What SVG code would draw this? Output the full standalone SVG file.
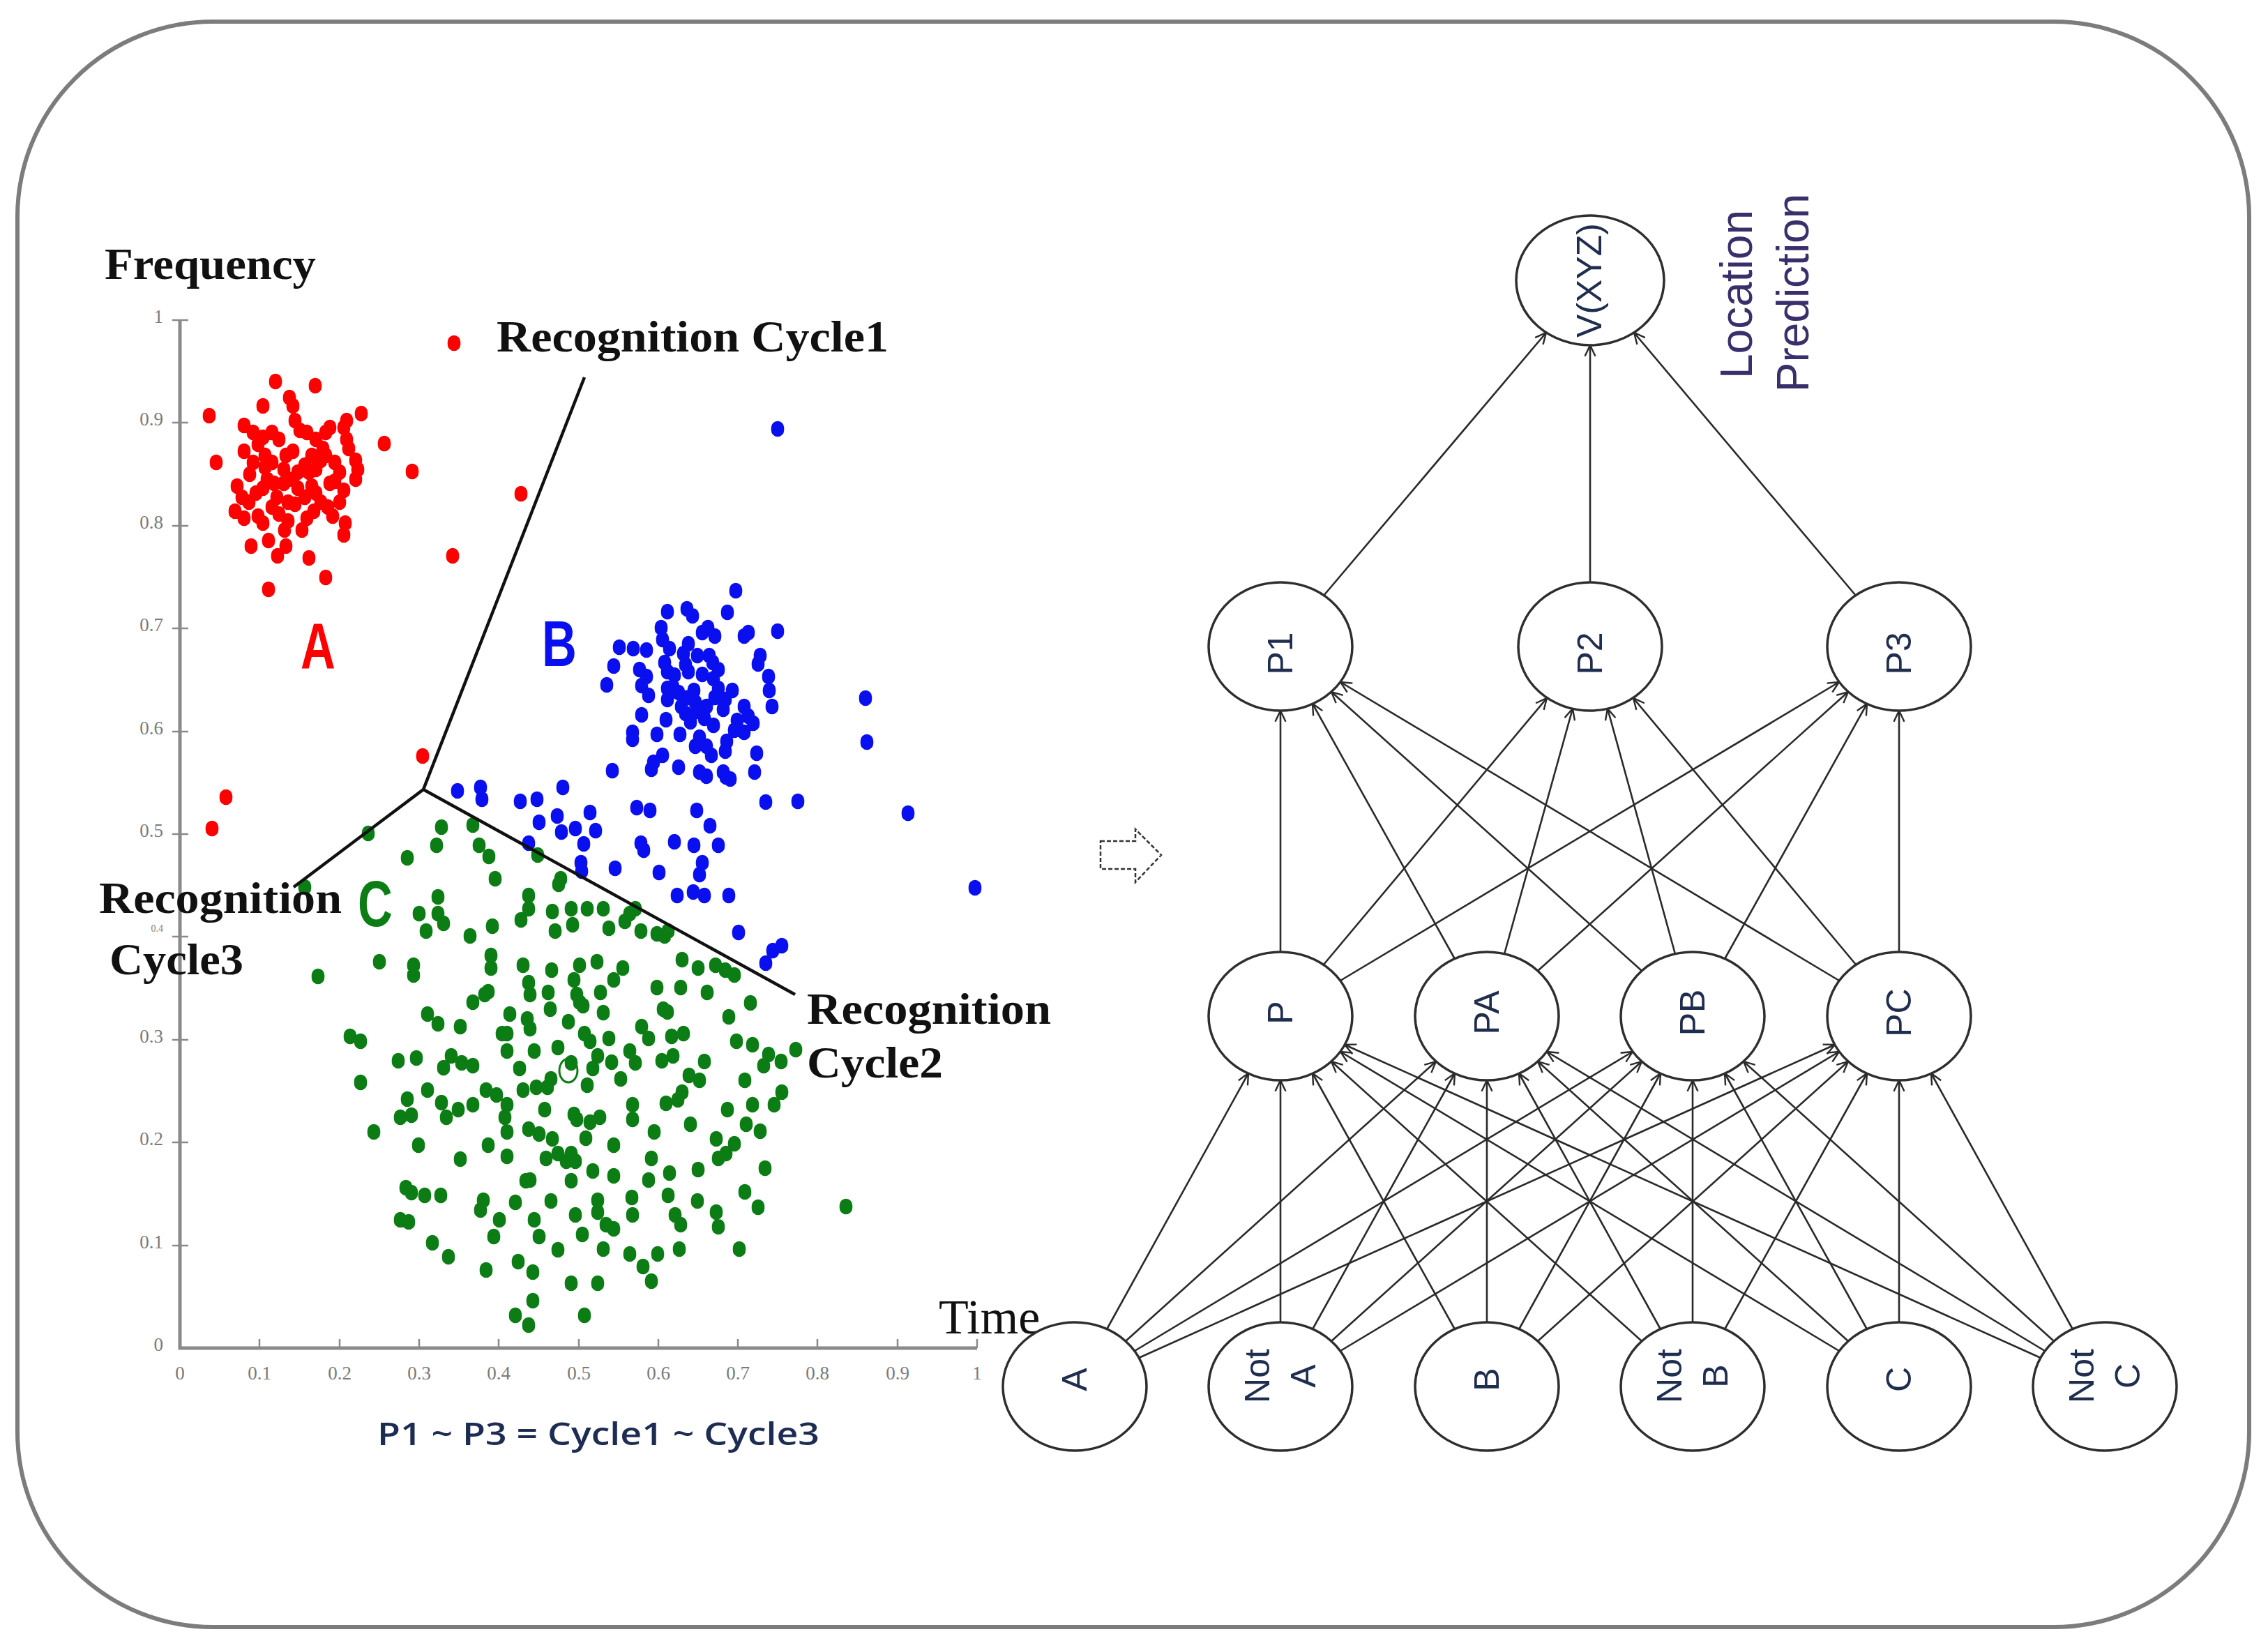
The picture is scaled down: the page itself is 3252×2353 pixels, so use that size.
<svg xmlns="http://www.w3.org/2000/svg" width="3252" height="2353" viewBox="0 0 3252 2353">
<style>
.serifb{font-family:"Liberation Serif","Times New Roman",serif;font-weight:bold;fill:#111}
.tick{font-family:"Liberation Serif","Times New Roman",serif;font-size:27px;fill:#7a7a7a}
.nl{font-family:"Liberation Sans",Arial,sans-serif;font-size:50px;fill:#1f2d4f}
.node{fill:#fff;stroke:#2e2e2e;stroke-width:3.5}
.edge{stroke:#2a2a2a;stroke-width:2.6;fill:none;marker-end:url(#arr)}
.axis{stroke:#8a8a8a;stroke-width:5;fill:none}
.tk{stroke:#8a8a8a;stroke-width:2.5}
.sep{stroke:#111;stroke-width:4.5;fill:none}
.dots{fill:none;stroke-linecap:round;stroke-width:18.5}
</style>
<defs>
<marker id="arr" viewBox="0 0 12 12" refX="11.5" refY="6" markerWidth="18" markerHeight="18" markerUnits="userSpaceOnUse" orient="auto">
<path d="M1,1 L11.5,6 L1,11" fill="none" stroke="#2a2a2a" stroke-width="1.6"/>
</marker>
</defs>
<rect x="0" y="0" width="3252" height="2353" fill="#fff"/>
<rect id="frame" x="25" y="31" width="3200" height="2302" rx="280" ry="280" fill="none" stroke="#7c7c7c" stroke-width="6"/>

<g id="chart">
<text class="serifb" x="150" y="400" font-size="64" textLength="303" lengthAdjust="spacingAndGlyphs">Frequency</text>
<path class="axis" d="M258 459V1933H1401"/>
<path class="tk" d="M247 459H270M247 606H270M247 754H270M247 901H270M247 1049H270M247 1196H270M247 1343H270M247 1491H270M247 1638H270M247 1786H270M372 1920V1933M487 1920V1933M601 1920V1933M715 1920V1933M830 1920V1933M944 1920V1933M1058 1920V1933M1172 1920V1933M1287 1920V1933M1401 1920V1933"/>
<g class="tick" text-anchor="end">
<text x="234" y="463">1</text><text x="234" y="610">0.9</text><text x="234" y="758">0.8</text><text x="234" y="905">0.7</text><text x="234" y="1053">0.6</text><text x="234" y="1200">0.5</text><text x="234" y="1336" font-size="14">0.4</text><text x="234" y="1495">0.3</text><text x="234" y="1642">0.2</text><text x="234" y="1790">0.1</text><text x="234" y="1937">0</text>
</g>
<g class="tick" text-anchor="middle">
<text x="258" y="1978">0</text><text x="372" y="1978">0.1</text><text x="487" y="1978">0.2</text><text x="601" y="1978">0.3</text><text x="715" y="1978">0.4</text><text x="830" y="1978">0.5</text><text x="944" y="1978">0.6</text><text x="1058" y="1978">0.7</text><text x="1172" y="1978">0.8</text><text x="1287" y="1978">0.9</text><text x="1401" y="1978">1</text>
</g>
<path class="dots" stroke="#ff0000" d="M651 490v4M300 594v4M310 661v4M747 706v4M649 795v4M606 1082v4M324 1141v4M304 1186v4M551 634v4M591 674v4M518 591v4M385 843v4M467 826v4M443 798v4M395 545v4M452 551v4M415 568v4M420 580v4M377 580v4M360 781v4M385 773v4M398 795v4M408 758v4M410 781v4M493 765v4M495 748v4M350 608v4M363 618v4M377 625v4M390 618v4M400 628v4M350 645v4M370 635v4M380 651v4M380 668v4M390 661v4M410 651v4M420 645v4M423 601v4M430 615v4M440 618v4M453 628v4M467 618v4M473 611v4M447 651v4M437 665v4M427 675v4M420 685v4M407 691v4M393 691v4M383 685v4M377 698v4M367 705v4M340 695v4M347 711v4M357 718v4M337 731v4M350 741v4M370 738v4M377 748v4M390 725v4M397 711v4M413 718v4M427 698v4M437 711v4M447 695v4M453 671v4M460 658v4M467 651v4M480 661v4M487 675v4M480 688v4M493 701v4M487 718v4M470 725v4M460 718v4M450 731v4M440 741v4M433 758v4M477 738v4M497 628v4M500 641v4M510 658v4M513 671v4M510 685v4M493 611v4M497 601v4M463 641v4M473 691v4M423 721v4M453 705v4M407 671v4M363 661v4M358 678v4M400 735v4M413 745v4M443 675v4"/>
<path class="dots" stroke="#0a0ff0" d="M1055 845v4M957 875v4M985 871v4M993 881v4M1043 876v4M1015 898v4M1025 910v4M1007 905v4M1067 910v4M1073 905v4M1115 903v4M888 926v4M908 928v4M927 930v4M948 898v4M950 915v4M987 921v4M980 935v4M1017 938v4M1022 948v4M1090 938v4M1087 950v4M880 953v4M870 980v4M917 958v4M927 968v4M920 981v4M930 995v4M953 948v4M957 961v4M967 966v4M983 951v4M987 961v4M1007 965v4M1023 971v4M1030 985v4M1102 968v4M1103 988v4M1107 1011v4M957 985v4M957 1001v4M973 991v4M987 998v4M997 1005v4M977 1011v4M983 1021v4M1000 1018v4M1013 1011v4M1010 1028v4M1040 1001v4M1037 1015v4M1067 1011v4M1073 1025v4M1057 1031v4M1080 1035v4M1053 1045v4M1067 1048v4M920 1023v4M955 1030v4M1023 1038v4M907 1048v4M907 1058v4M942 1051v4M975 1051v4M1003 1055v4M997 1068v4M1013 1068v4M1020 1081v4M1042 1061v4M1040 1075v4M1085 1078v4M937 1091v4M950 1081v4M973 1098v4M878 1103v4M1003 1105v4M1013 1111v4M1037 1105v4M1047 1115v4M1082 1105v4M965 983v4M995 988v4M1000 938v4M960 928v4M1030 958v4M1050 988v4M990 1033v4M1025 998v4M656 1132v4M689 1127v4M691 1144v4M746 1147v4M770 1144v4M807 1127v4M773 1177v4M799 1168v4M805 1191v4M825 1186v4M846 1163v4M854 1189v4M837 1208v4M758 1207v4M833 1235v4M834 1247v4M882 1243v4M913 1156v4M932 1160v4M919 1207v4M923 1217v4M945 1249v4M967 1205v4M999 1160v4M995 1210v4M1030 1210v4M1018 1182v4M1007 1235v4M1003 1252v4M971 1282v4M994 1277v4M1010 1282v4M1045 1282v4M1059 1335v4M1098 1148v4M1144 1147v4M1121 1354v4M1108 1361v4M1098 1379v4M934 1101v4M1041 1112v4M1115 613v4M1241 999v4M1243 1062v4M1302 1164v4M1398 1271v4"/>
<path class="dots" stroke="#0b7d14" d="M633 1184v4M678 1181v4M528 1193v4M626 1210v4M687 1210v4M701 1226v4M584 1228v4M771 1224v4M710 1258v4M804 1258v4M801 1266v4M758 1282v4M628 1284v4M601 1308v4M628 1308v4M758 1301v4M792 1305v4M819 1301v4M842 1301v4M865 1301v4M903 1308v4M911 1301v4M636 1322v4M611 1333v4M706 1326v4M674 1340v4M747 1317v4M796 1333v4M821 1324v4M873 1329v4M896 1319v4M919 1333v4M942 1337v4M953 1340v4M958 1333v4M544 1377v4M456 1398v4M593 1382v4M593 1396v4M704 1368v4M704 1386v4M750 1382v4M791 1389v4M831 1382v4M856 1377v4M893 1386v4M978 1374v4M1001 1386v4M1026 1382v4M1040 1389v4M1053 1396v4M758 1407v4M760 1424v4M786 1421v4M823 1403v4M827 1424v4M861 1421v4M880 1403v4M942 1414v4M976 1414v4M1014 1421v4M1076 1436v4M678 1435v4M695 1424v4M789 1445v4M831 1435v4M836 1440v4M951 1445v4M613 1452v4M628 1466v4M731 1452v4M756 1459v4M760 1473v4M815 1463v4M865 1450v4M1045 1456v4M957 1449v4M727 1480v4M838 1480v4M846 1491v4M873 1487v4M930 1487v4M963 1484v4M502 1484v4M517 1491v4M1056 1491v4M1079 1496v4M1141 1503v4M1102 1510v4M727 1505v4M766 1505v4M857 1512v4M877 1521v4M903 1505v4M911 1522v4M949 1519v4M965 1512v4M647 1512v4M662 1522v4M678 1526v4M571 1519v4M597 1515v4M636 1529v4M819 1522v4M988 1540v4M1003 1547v4M1068 1547v4M1095 1526v4M517 1550v4M697 1561v4M712 1568v4M750 1561v4M769 1557v4M785 1557v4M842 1554v4M978 1564v4M972 1575v4M1121 1564v4M584 1574v4M613 1561v4M633 1579v4M657 1589v4M678 1582v4M727 1582v4M781 1589v4M823 1596v4M907 1582v4M1043 1589v4M1079 1582v4M1110 1582v4M574 1600v4M590 1597v4M724 1600v4M727 1621v4M758 1617v4M773 1624v4M792 1631v4M827 1603v4M846 1607v4M907 1603v4M938 1621v4M1027 1631v4M1053 1638v4M1070 1610v4M536 1621v4M800 1652v4M819 1652v4M1041 1652v4M727 1656v4M783 1659v4M812 1663v4M825 1663v4M850 1677v4M880 1684v4M934 1659v4M1001 1675v4M1030 1659v4M1097 1673v4M754 1691v4M819 1691v4M582 1701v4M590 1708v4M609 1712v4M632 1712v4M693 1719v4M739 1722v4M906 1715v4M958 1712v4M1068 1707v4M1213 1728v4M857 1719v4M1087 1729v4M574 1747v4M586 1750v4M689 1733v4M716 1747v4M766 1747v4M825 1740v4M857 1736v4M869 1754v4M907 1740v4M968 1740v4M976 1754v4M1027 1736v4M1030 1757v4M708 1771v4M773 1771v4M835 1768v4M865 1789v4M903 1796v4M943 1796v4M974 1789v4M1060 1789v4M643 1800v4M697 1819v4M743 1807v4M764 1822v4M922 1814v4M934 1835v4M819 1838v4M857 1838v4M764 1863v4M739 1884v4M758 1898v4M838 1884v4M437 1270v4M720 1480v4M745 1530v4M790 1545v4M800 1500v4M850 1530v4M890 1545v4M920 1470v4M955 1580v4M990 1610v4M860 1600v4M880 1640v4M840 1630v4M760 1690v4M790 1720v4M930 1690v4M960 1680v4M1000 1720v4M700 1640v4M660 1660v4M640 1600v4M880 1760v4M800 1790v4M980 1480v4M1010 1520v4M1090 1620v4M1120 1520v4M700 1420v4M660 1470v4M600 1640v4M620 1780v4"/>
<ellipse cx="815" cy="1535" rx="13" ry="17" fill="none" stroke="#0b7d14" stroke-width="3"/>
<path class="sep" d="M838 541L607 1132L421 1272M607 1132L1140 1426"/>
<g font-family="Liberation Sans,Arial,sans-serif" font-weight="bold" font-size="92">
<text x="456" y="958" fill="#ff0000" text-anchor="middle" transform="translate(456 0) scale(0.75 1) translate(-456 0)">A</text>
<text x="802" y="955" fill="#0a0ff0" text-anchor="middle" transform="translate(802 0) scale(0.75 1) translate(-802 0)">B</text>
<text x="538" y="1328" fill="#0b7d14" text-anchor="middle" transform="translate(538 0) scale(0.75 1) translate(-538 0)">C</text>
</g>
<text class="serifb" x="712" y="504" font-size="64" textLength="562" lengthAdjust="spacingAndGlyphs">Recognition Cycle1</text>
<text class="serifb" x="142" y="1309" font-size="64" textLength="348" lengthAdjust="spacingAndGlyphs">Recognition</text>
<text class="serifb" x="157" y="1397" font-size="64" textLength="192" lengthAdjust="spacingAndGlyphs">Cycle3</text>
<text class="serifb" x="1157" y="1468" font-size="64" textLength="350" lengthAdjust="spacingAndGlyphs">Recognition</text>
<text class="serifb" x="1157" y="1545" font-size="64" textLength="195" lengthAdjust="spacingAndGlyphs">Cycle2</text>
<text x="541" y="2072" font-family="Open Sans,Liberation Sans,sans-serif" font-weight="600" font-size="46" fill="#1d2c52" textLength="634" lengthAdjust="spacingAndGlyphs">P1 ~ P3 = Cycle1 ~ Cycle3</text>
</g>

<path id="dashed-arrow" d="M1578 1206H1628V1189L1665 1226L1628 1265V1246H1578Z" fill="none" stroke="#333" stroke-width="2.5" stroke-dasharray="6 3"/>

<text id="time-label" x="1346" y="1912" font-family="Liberation Serif,Times New Roman,serif" font-size="70" fill="#111">Time</text>

<g id="connectors">
<line class="edge" x1="1898" y1="854" x2="2217" y2="477"/>
<line class="edge" x1="2280" y1="835" x2="2280" y2="495"/>
<line class="edge" x1="2661" y1="854" x2="2343" y2="477"/>
<line class="edge" x1="1836" y1="1365" x2="1836" y2="1019"/>
<line class="edge" x1="1898" y1="1383" x2="2218" y2="1001"/>
<line class="edge" x1="1922" y1="1406" x2="2637" y2="978"/>
<line class="edge" x1="2086" y1="1375" x2="1882" y2="1009"/>
<line class="edge" x1="2157" y1="1368" x2="2255" y2="1016"/>
<line class="edge" x1="2205" y1="1392" x2="2650" y2="992"/>
<line class="edge" x1="2354" y1="1392" x2="1909" y2="992"/>
<line class="edge" x1="2402" y1="1368" x2="2305" y2="1016"/>
<line class="edge" x1="2473" y1="1375" x2="2677" y2="1009"/>
<line class="edge" x1="2637" y1="1406" x2="1922" y2="978"/>
<line class="edge" x1="2661" y1="1383" x2="2342" y2="1001"/>
<line class="edge" x1="2723" y1="1365" x2="2723" y2="1019"/>
<line class="edge" x1="1587" y1="1906" x2="1790" y2="1539"/>
<line class="edge" x1="1614" y1="1923" x2="2059" y2="1522"/>
<line class="edge" x1="1627" y1="1937" x2="2341" y2="1508"/>
<line class="edge" x1="1633" y1="1947" x2="2631" y2="1498"/>
<line class="edge" x1="1836" y1="1896" x2="1836" y2="1549"/>
<line class="edge" x1="1882" y1="1906" x2="2086" y2="1539"/>
<line class="edge" x1="1909" y1="1923" x2="2354" y2="1522"/>
<line class="edge" x1="1922" y1="1937" x2="2637" y2="1508"/>
<line class="edge" x1="2086" y1="1906" x2="1882" y2="1539"/>
<line class="edge" x1="2132" y1="1896" x2="2132" y2="1549"/>
<line class="edge" x1="2178" y1="1906" x2="2381" y2="1539"/>
<line class="edge" x1="2205" y1="1923" x2="2650" y2="1522"/>
<line class="edge" x1="2354" y1="1923" x2="1909" y2="1522"/>
<line class="edge" x1="2381" y1="1906" x2="2178" y2="1539"/>
<line class="edge" x1="2427" y1="1896" x2="2427" y2="1549"/>
<line class="edge" x1="2473" y1="1906" x2="2677" y2="1539"/>
<line class="edge" x1="2637" y1="1937" x2="1922" y2="1508"/>
<line class="edge" x1="2650" y1="1923" x2="2205" y2="1522"/>
<line class="edge" x1="2677" y1="1906" x2="2473" y2="1539"/>
<line class="edge" x1="2723" y1="1896" x2="2723" y2="1549"/>
<line class="edge" x1="2926" y1="1947" x2="1928" y2="1498"/>
<line class="edge" x1="2932" y1="1937" x2="2218" y2="1508"/>
<line class="edge" x1="2945" y1="1923" x2="2500" y2="1522"/>
<line class="edge" x1="2972" y1="1906" x2="2769" y2="1539"/>
</g>

<g id="node-V"><ellipse class="node" cx="2280" cy="402" rx="106" ry="93"/><text class="nl" text-anchor="middle" transform="translate(2296 402) rotate(-90)">V(XYZ)</text></g>
<g id="node-P1"><ellipse class="node" cx="1836" cy="927" rx="103" ry="92"/><text class="nl" text-anchor="middle" transform="translate(1853 937) rotate(-90)">P1</text></g>
<g id="node-P2"><ellipse class="node" cx="2280" cy="927" rx="103" ry="92"/><text class="nl" text-anchor="middle" transform="translate(2297 937) rotate(-90)">P2</text></g>
<g id="node-P3"><ellipse class="node" cx="2723" cy="927" rx="103" ry="92"/><text class="nl" text-anchor="middle" transform="translate(2740 937) rotate(-90)">P3</text></g>
<g id="node-P"><ellipse class="node" cx="1836" cy="1457" rx="103" ry="92"/><text class="nl" text-anchor="middle" transform="translate(1853 1452) rotate(-90)">P</text></g>
<g id="node-PA"><ellipse class="node" cx="2132" cy="1457" rx="103" ry="92"/><text class="nl" text-anchor="middle" transform="translate(2149 1452) rotate(-90)">PA</text></g>
<g id="node-PB"><ellipse class="node" cx="2427" cy="1457" rx="103" ry="92"/><text class="nl" text-anchor="middle" transform="translate(2444 1452) rotate(-90)">PB</text></g>
<g id="node-PC"><ellipse class="node" cx="2723" cy="1457" rx="103" ry="92"/><text class="nl" text-anchor="middle" transform="translate(2740 1452) rotate(-90)">PC</text></g>
<g id="node-A"><ellipse class="node" cx="1541" cy="1988" rx="103" ry="92"/><text class="nl" text-anchor="middle" transform="translate(1558 1978) rotate(-90)">A</text></g>
<g id="node-NotA"><ellipse class="node" cx="1836" cy="1988" rx="103" ry="92"/><text class="nl" text-anchor="middle" transform="translate(1820 1973) rotate(-90)">Not</text><text class="nl" text-anchor="middle" transform="translate(1886 1973) rotate(-90)">A</text></g>
<g id="node-B"><ellipse class="node" cx="2132" cy="1988" rx="103" ry="92"/><text class="nl" text-anchor="middle" transform="translate(2149 1978) rotate(-90)">B</text></g>
<g id="node-NotB"><ellipse class="node" cx="2427" cy="1988" rx="103" ry="92"/><text class="nl" text-anchor="middle" transform="translate(2411 1973) rotate(-90)">Not</text><text class="nl" text-anchor="middle" transform="translate(2477 1973) rotate(-90)">B</text></g>
<g id="node-C"><ellipse class="node" cx="2723" cy="1988" rx="103" ry="92"/><text class="nl" text-anchor="middle" transform="translate(2740 1978) rotate(-90)">C</text></g>
<g id="node-NotC"><ellipse class="node" cx="3018" cy="1988" rx="103" ry="92"/><text class="nl" text-anchor="middle" transform="translate(3002 1973) rotate(-90)">Not</text><text class="nl" text-anchor="middle" transform="translate(3068 1973) rotate(-90)">C</text></g>

<g id="legend-location" font-family="Liberation Sans,Arial,sans-serif" font-size="64" fill="#3b2f6b" text-anchor="middle">
<text transform="translate(2512 422) rotate(-90)">Location</text>
<text transform="translate(2593 420) rotate(-90)">Prediction</text>
</g>
</svg>
